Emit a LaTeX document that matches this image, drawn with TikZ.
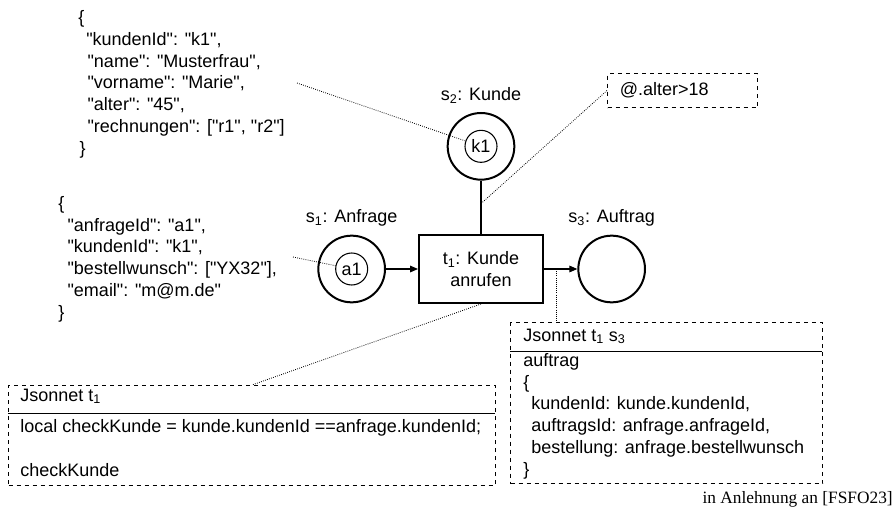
\documentclass[tikz,border=0pt]{standalone}
\usepackage{fontspec}
\setmainfont{Liberation Sans}[Ligatures=TeXOff]
\newfontfamily\srcfont{Liberation Serif}
\usetikzlibrary{arrows.meta, positioning, calc}

\begin{document}
\begin{tikzpicture}[
    x=0.75pt, y=-0.75pt,
    font=\fontsize{13.5}{16.3}\selectfont,
    place/.style={circle, draw, line width=1.5pt, minimum size=50pt, inner sep=0pt},
    token/.style={circle, draw, line width=0.8pt, minimum size=24pt, inner sep=0pt},
    trans/.style={rectangle, draw, line width=1.5pt, minimum width=93pt, minimum height=51pt, align=center},
    note/.style={rectangle, draw, dashed, line width=0.8pt},
    code/.style={align=left, anchor=base west, inner sep=0pt},
    link/.style={densely dotted, line width=0.6pt},
    arrow/.style={-{Triangle[length=6pt, width=5pt]}, line width=0.8pt}
]
\useasboundingbox (0,0) rectangle (896,510);

% Net
\node[trans] (t1) at (481,269) {t\textsubscript{1}: Kunde\\anrufen};
\node[place, above=40pt of t1] (s2) {};
\node[place, left=24pt of t1] (s1) {};
\node[place, right=25pt of t1] (s3) {};
\node[token] (k1) at (s2) {k1};
\node[token] (a1) at (s1) {a1};

% Place labels
\node[above=3pt of s2] (lab2) {s\textsubscript{2}: Kunde};
\node[above=3pt of s1] (lab1) {s\textsubscript{1}: Anfrage};
\node[above=3pt of s3] (lab3) {s\textsubscript{3}: Auftrag};

% Arcs
\draw[arrow] (s1) -- (t1);
\draw[arrow] (t1) -- (s3);
\draw[line width=0.8pt] (s2) -- (t1);

% Tokens as JSON (base = last line)
\node[code] (json1) at (78,154) {\{\\
\hspace*{6pt}"kundenId": "k1",\\
\hspace*{7pt}"name": "Musterfrau",\\
\hspace*{7pt}"vorname": "Marie",\\
\hspace*{7pt}"alter": "45",\\
\hspace*{7pt}"rechnungen": ["r1", "r2"]\\
\hspace*{1pt}\}};
\node[code] (json2) at (58,318) {\{\\
\hspace*{7pt}"anfrageId": "a1",\\
\hspace*{7pt}"kundenId": "k1",\\
\hspace*{7pt}"bestellwunsch": ["YX32"],\\
\hspace*{7pt}"email": "m@m.de"\\
\}};

% Guard
\node[note, anchor=north west, minimum width=112.5pt, minimum height=25.5pt, text width=94pt, inner xsep=9pt] (guard) at (607,73) {@.alter>18};

% Jsonnet t1
\node[note, anchor=north west, minimum width=365pt, minimum height=75pt] (jt1) at (8,385) {};
\node[code] (jt1head) at (20,401) {Jsonnet t\textsubscript{1}};
\draw[line width=0.6pt] (jt1.north west) ++(0,28) -- ++(487,0);
\node[code] (jt1body) at (20,476) {local checkKunde = kunde.kundenId ==anfrage.kundenId;\\
\mbox{}\\
checkKunde};

% Jsonnet t1 s3
\node[note, anchor=north west, minimum width=234pt, minimum height=120.75pt] (jt13) at (510,322) {};
\node[code] (jt13head) at (523,341) {Jsonnet t\textsubscript{1}\ s\textsubscript{3}};
\draw[line width=0.6pt] (jt13.north west) ++(0,29) -- ++(312,0);
\node[code] (jt13body) at (523,475) {auftrag\\
\{\\
\hspace*{6pt}kundenId: kunde.kundenId,\\
\hspace*{6pt}auftragsId: anfrage.anfrageId,\\
\hspace*{6pt}bestellung: anfrage.bestellwunsch\\
\}};

% Dotted links
\coordinate (j1) at (297,83);
\coordinate (j2) at (293,257);
\coordinate (midarc) at ($(s2.south)!0.43!(t1.north)$);
\coordinate (outarc) at ($(t1.east)!0.38!(s3.west)$);
\draw[link] (j1) -- (k1);
\draw[link] (j2) -- (a1);
\draw[link] (guard.west) -- (midarc);
\draw[link] (t1.south) -- (jt1.north);
\draw[link] (outarc) -- (outarc |- jt13.north);

% Source
\node[anchor=base east, inner sep=0pt, font={\srcfont\fontsize{13}{16}\selectfont}] (src) at (893,503) {in Anlehnung an [FSFO23]};

\end{tikzpicture}
\end{document}
